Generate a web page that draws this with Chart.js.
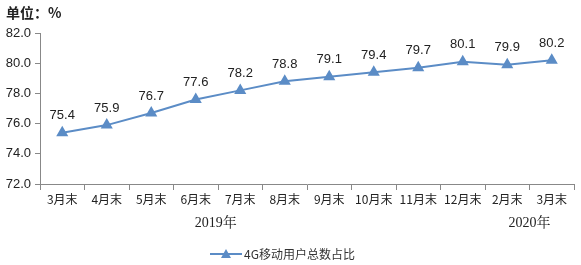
<!DOCTYPE html>
<html>
<head>
<meta charset="utf-8">
<script src="https://cdn.jsdelivr.net/npm/chart.js@4"></script>
<style>
  html, body { margin: 0; padding: 0; background: #fff; }
  #wrap { width: 581px; height: 265px; position: relative; }
</style>
</head>
<body>
<div id="wrap"><canvas id="chart"></canvas></div>
<script>
// categories and values
const months = ['3月末', '4月末', '5月末', '6月末', '7月末', '8月末', '9月末', '10月末', '11月末', '12月末', '2月末', '3月末'];
const share4G = [75.4, 75.9, 76.7, 77.6, 78.2, 78.8, 79.1, 79.4, 79.7, 80.1, 79.9, 80.2];
const years = ['2019年', '2020年'];
const yearAt = [3.45, 10.5]; // category position of each year label
const seriesName = '4G移动用户总数占比';
const unitText = '单位：%';

const LINE = '#5b8cc6';
const SANS = '"Liberation Sans", Arial, "Noto Sans CJK SC", sans-serif';
const CJK = '"Noto Sans CJK SC", "Liberation Sans", sans-serif';
const SERIF = '"Liberation Serif", "Noto Serif CJK SC", "Noto Sans CJK SC", serif';

// value labels, year labels, unit title and legend
const extras = {
  id: 'extras',
  afterDatasetsDraw(chart) {
    const ctx = chart.ctx;
    const meta = chart.getDatasetMeta(0);
    const x = chart.scales.x;
    ctx.save();
    ctx.fillStyle = '#222';
    ctx.font = '13px ' + SANS;
    ctx.textAlign = 'center';
    ctx.textBaseline = 'middle';
    meta.data.forEach((pt, i) => {
      ctx.fillText(share4G[i].toFixed(1), pt.x, pt.y - 17);
    });

    ctx.font = '14px ' + SERIF;
    years.forEach((y, i) => {
      ctx.fillText(y, x.getPixelForValue(yearAt[i]), 223);
    });

    ctx.textAlign = 'left';
    ctx.font = 'bold 14px ' + CJK;
    ctx.fillText(unitText, 6, 13);

    // legend
    const ly = 254;
    ctx.strokeStyle = LINE;
    ctx.lineWidth = 2;
    ctx.beginPath();
    ctx.moveTo(210, ly);
    ctx.lineTo(242, ly);
    ctx.stroke();
    ctx.fillStyle = LINE;
    ctx.beginPath();
    ctx.moveTo(226, ly - 5);
    ctx.lineTo(231, ly + 4);
    ctx.lineTo(221, ly + 4);
    ctx.closePath();
    ctx.fill();
    ctx.fillStyle = '#333';
    ctx.font = '12px ' + CJK;
    ctx.fillText(seriesName, 244, ly);
    ctx.restore();
  }
};

new Chart(document.getElementById('chart'), {
  type: 'line',
  data: {
    labels: months,
    datasets: [{
      label: seriesName,
      data: share4G,
      borderColor: LINE,
      backgroundColor: LINE,
      borderWidth: 2,
      pointStyle: 'triangle',
      pointRadius: 5,
      pointHoverRadius: 5,
      tension: 0
    }]
  },
  options: {
    responsive: true,
    maintainAspectRatio: false,
    animation: false,
    layout: { padding: { left: 0, right: 5, top: 33, bottom: 57 } },
    plugins: {
      legend: { display: false },
      tooltip: { enabled: false }
    },
    scales: {
      x: {
        offset: true,
        afterFit: s => { s.height = 24; },
        grid: { offset: true, drawOnChartArea: false, tickLength: 6, color: '#888' },
        border: { color: '#888' },
        ticks: { color: '#222', font: { size: 12, family: CJK }, padding: 2, maxRotation: 0, autoSkip: false }
      },
      y: {
        min: 72,
        max: 82,
        afterFit: s => { s.width = 40; },
        grid: { drawOnChartArea: false, tickLength: 5, color: '#888' },
        border: { color: '#888' },
        ticks: { stepSize: 2, color: '#222', font: { size: 13, family: SANS }, padding: 4, callback: v => v.toFixed(1) }
      }
    }
  },
  plugins: [extras]
});
</script>
</body>
</html>
